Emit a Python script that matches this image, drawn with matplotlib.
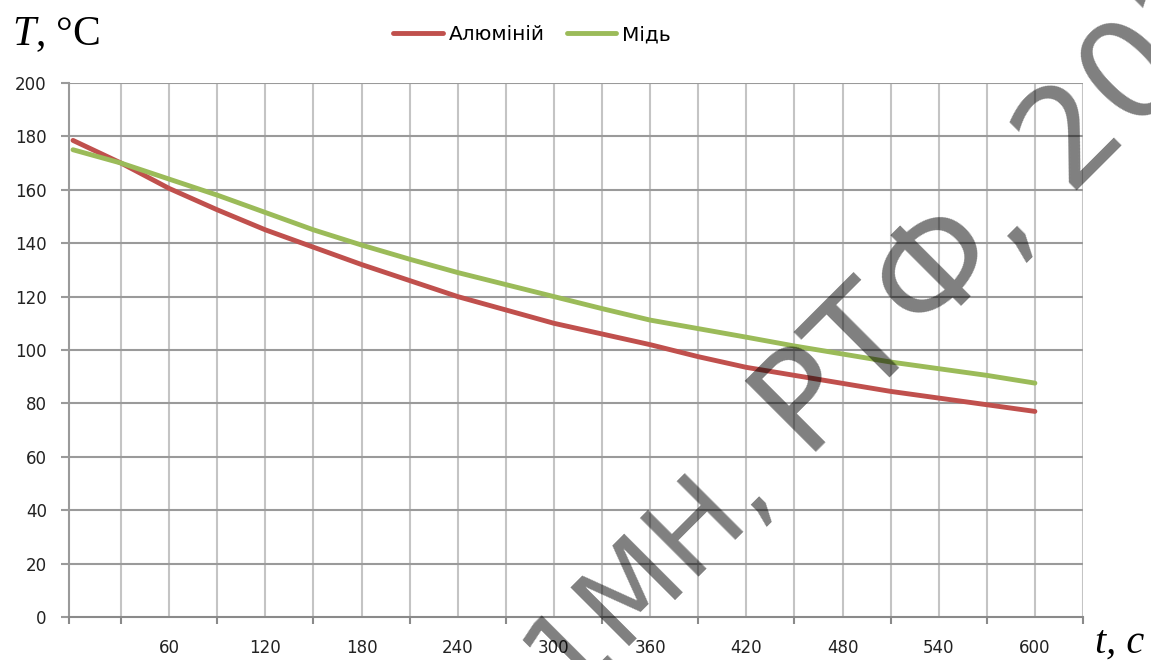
import matplotlib
matplotlib.use("Agg")
import matplotlib.pyplot as plt

# time, s (every 30 s)
t = [0, 30, 60, 90, 120, 150, 180, 210, 240, 270, 300,
     330, 360, 390, 420, 450, 480, 510, 540, 570, 600]
# temperature, °C
aluminium = [178.5, 170, 160.5, 152.5, 145, 138.5, 132, 126, 120, 115, 110,
             106, 102, 97.5, 93.5, 90.5, 87.5, 84.5, 82, 79.5, 77]
copper = [175, 170, 164, 158, 151.5, 145, 139.3, 134, 129, 124.5, 120,
          115.5, 111.2, 108, 104.8, 101.5, 98.5, 95.5, 93, 90.5, 87.6]

x_labels = [60, 120, 180, 240, 300, 360, 420, 480, 540, 600]
y_ticks = list(range(0, 201, 20))

plt.rcParams['mathtext.fontset'] = 'custom'
plt.rcParams['mathtext.it'] = 'Liberation Serif:italic'
plt.rcParams['mathtext.rm'] = 'Liberation Serif'

fig = plt.figure(figsize=(11.51, 6.60), dpi=100)
ax = fig.add_axes([69 / 1151, 1 - 617 / 660, (1083 - 69) / 1151, (617 - 83) / 660])

ax.plot(t, aluminium, color='#C0504D', lw=3.5, solid_capstyle='round', label='Алюміній', zorder=3)
ax.plot(t, copper, color='#9BBB59', lw=3.5, solid_capstyle='round', label='Мідь', zorder=3)

ax.set_xlim(-2.5, 630)
ax.set_ylim(0, 200)

# grid
for v in range(30, 631, 30):
    ax.axvline(v, color='#c4c4c4', lw=1.5, zorder=1)
for h in y_ticks[1:]:
    ax.axhline(h, color='#9a9a9a', lw=1.5, zorder=1)

for s in ['top', 'right']:
    ax.spines[s].set_visible(False)
ax.spines['left'].set_color('#9a9a9a')
ax.spines['bottom'].set_color('#8a8a8a')
ax.spines['left'].set_linewidth(1.5)
ax.spines['bottom'].set_linewidth(1.5)

ax.set_xticks(x_labels)
ax.set_xticklabels([str(v) for v in x_labels])
ax.set_xticks([-2.5] + list(range(30, 631, 60)), minor=True)
ax.tick_params(axis='x', which='major', length=0, pad=16, labelsize=12, labelcolor='#222222')
ax.tick_params(axis='x', which='minor', length=5, width=1.5, color='#8a8a8a', direction='out')
ax.set_yticks(y_ticks)
ax.tick_params(axis='y', length=6, width=1.5, color='#9a9a9a', pad=10, labelsize=12, labelcolor='#222222')

fig.legend(loc='center', bbox_to_anchor=(532 / 1151, 1 - 35 / 660), ncol=2, frameon=False,
           fontsize=14.5, handlelength=2.45, handletextpad=0.3, columnspacing=1.1)

fig.text(12 / 1151, 1 - 45 / 660, r'$T$, °C', fontsize=30, family='Liberation Serif',
         ha='left', va='baseline')
fig.text(1095 / 1151, 1 - 653 / 660, 't, c', fontsize=29, family='Liberation Serif',
         style='italic', ha='left', va='baseline')

# watermark (two pieces joined at the first comma)
wm = dict(family='DejaVu Sans', color='black', alpha=0.5, rotation=45,
          rotation_mode='anchor', va='baseline', zorder=10)
fig.text(776 / 1151, 1 - 492 / 660, '21МН,', fontsize=82, ha='right', **wm)
fig.text(776 / 1151, 1 - 492 / 660, ' РТФ, 2023', fontsize=99, ha='left', **wm)

fig.savefig('out.png', dpi=100)
